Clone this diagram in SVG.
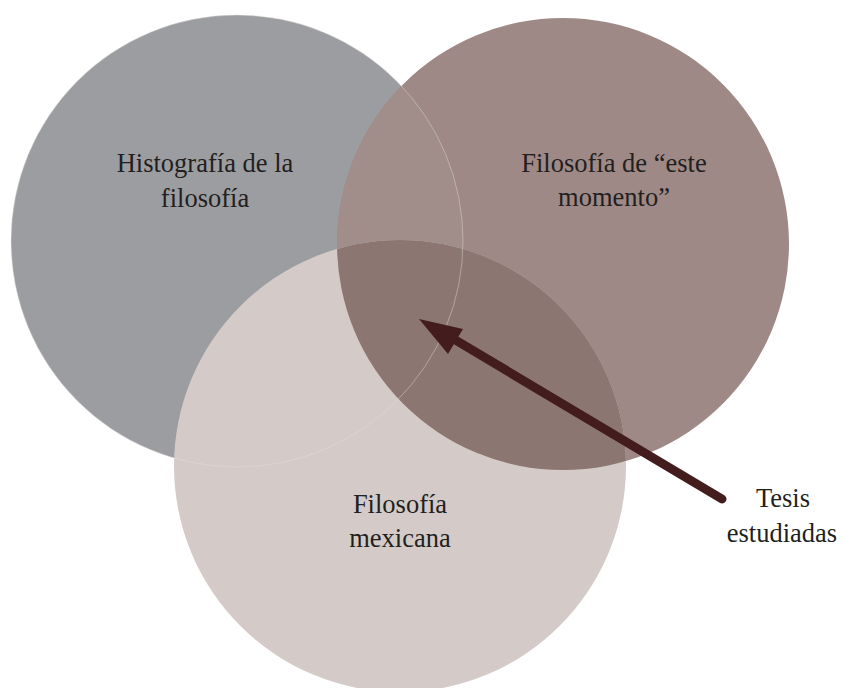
<svg xmlns="http://www.w3.org/2000/svg" width="843" height="688" viewBox="0 0 843 688">
<style>
.lbl{font-family:"Liberation Serif","DejaVu Serif",serif;font-size:26.5px;fill:#231f20;text-anchor:middle}
.edge{fill:none;stroke:#e6dfdd;stroke-width:0.8;opacity:0.55}
</style>
<defs>
<clipPath id="clipRight"><circle cx="563" cy="244" r="226"/></clipPath>
</defs>
<rect width="843" height="688" fill="#ffffff"/>
<g id="histografia">
<circle cx="237" cy="241" r="226" fill="#9c9da1"/>
</g>
<g id="filosofia-este-momento">
<circle cx="563" cy="244" r="226" fill="#9e8986"/>
<circle cx="237" cy="241" r="226" fill="#a18d89" clip-path="url(#clipRight)"/>
</g>
<g id="filosofia-mexicana">
<circle cx="400" cy="466" r="226" fill="#d4cbc9"/>
<circle cx="400" cy="466" r="226" fill="#8c7671" clip-path="url(#clipRight)"/>
</g>
<circle class="edge" cx="237" cy="241" r="226"/>
<g id="labels">
<text class="lbl" x="205" y="172">Histografía de la</text>
<text class="lbl" x="205" y="207">filosofía</text>
<text class="lbl" x="614" y="172">Filosofía de “este</text>
<text class="lbl" x="614" y="206">momento”</text>
<text class="lbl" x="400" y="513">Filosofía</text>
<text class="lbl" x="400" y="547">mexicana</text>
</g>
<g id="connectors">
<line x1="722" y1="499" x2="452" y2="338" stroke="#431d1e" stroke-width="9" stroke-linecap="round"/>
<polygon points="419,319 463,329 448,354" fill="#431d1e"/>
</g>
<g id="tesis">
<text class="lbl" x="783" y="507">Tesis</text>
<text class="lbl" x="782" y="542">estudiadas</text>
</g>
</svg>
